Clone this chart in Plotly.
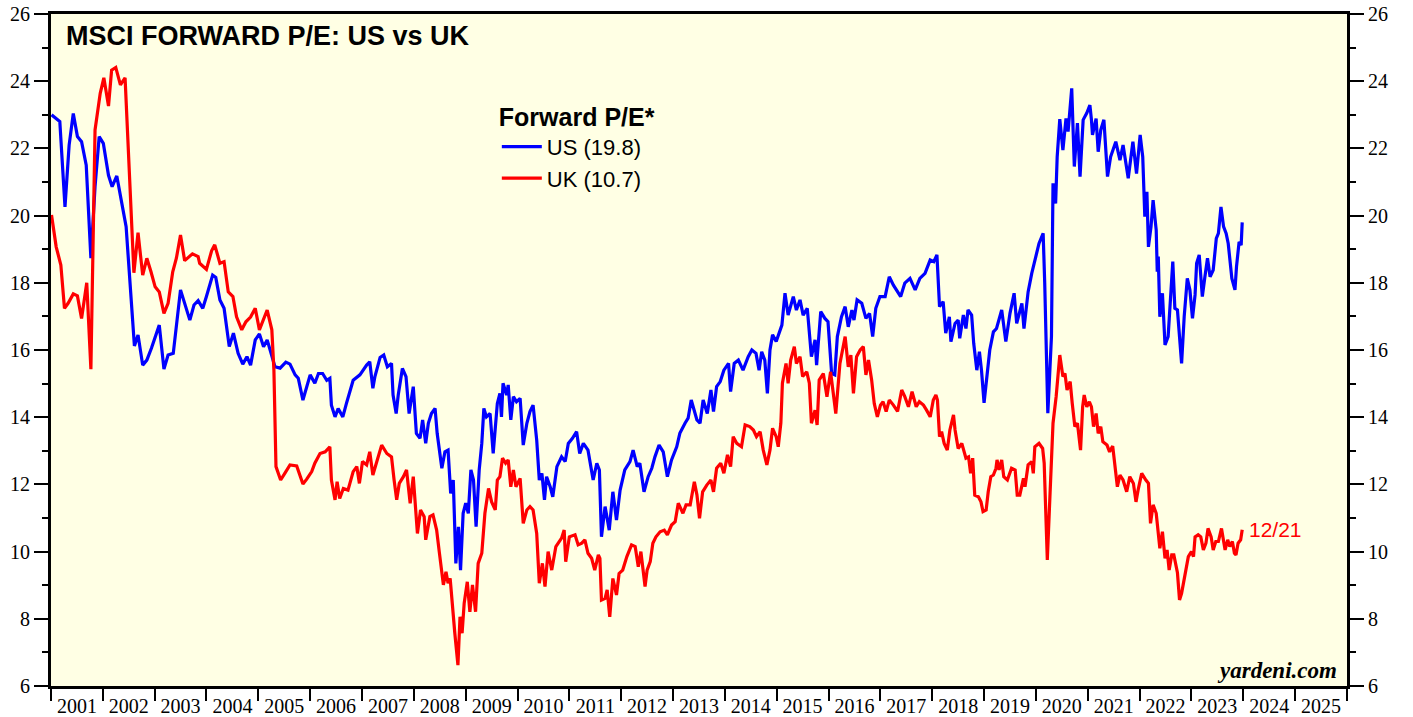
import datetime as dt
import plotly.graph_objects as go

# ---------------- data (decimal year, forward P/E) ----------------
us_t = [2001.01, 2001.17, 2001.27, 2001.35, 2001.43, 2001.51, 2001.59, 2001.68, 2001.77, 2001.85,
        2001.93, 2002.01, 2002.11, 2002.18, 2002.27, 2002.36, 2002.45, 2002.61, 2002.68, 2002.77,
        2002.85, 2002.94, 2003.09, 2003.18, 2003.26, 2003.36, 2003.50, 2003.68, 2003.76, 2003.84,
        2003.93, 2004.00, 2004.12, 2004.18, 2004.26, 2004.34, 2004.44, 2004.52, 2004.61, 2004.70,
        2004.78, 2004.85, 2004.94, 2005.02, 2005.10, 2005.17, 2005.32, 2005.42, 2005.53, 2005.61,
        2005.71, 2005.77, 2005.86, 2006.00, 2006.09, 2006.16, 2006.24, 2006.32, 2006.38, 2006.41,
        2006.48, 2006.54, 2006.63, 2006.70, 2006.83, 2006.96, 2007.02, 2007.09, 2007.15, 2007.21,
        2007.25, 2007.35, 2007.42, 2007.49, 2007.57, 2007.60, 2007.66, 2007.70, 2007.78, 2007.85,
        2007.91, 2007.99, 2008.05, 2008.12, 2008.17, 2008.23, 2008.28, 2008.34, 2008.41, 2008.45,
        2008.54, 2008.60, 2008.66, 2008.71, 2008.76, 2008.81, 2008.86, 2008.90, 2008.95, 2009.00,
        2009.05, 2009.10, 2009.15, 2009.20, 2009.26, 2009.31, 2009.35, 2009.40, 2009.47, 2009.53,
        2009.61, 2009.66, 2009.69, 2009.72, 2009.79, 2009.82, 2009.87, 2009.92, 2009.98, 2010.05,
        2010.11, 2010.18, 2010.24, 2010.30, 2010.37, 2010.42, 2010.47, 2010.52, 2010.56, 2010.63,
        2010.68, 2010.76, 2010.85, 2010.92, 2010.98, 2011.06, 2011.14, 2011.20, 2011.27, 2011.36,
        2011.46, 2011.53, 2011.58, 2011.62, 2011.69, 2011.73, 2011.77, 2011.84, 2011.91, 2011.98,
        2012.07, 2012.17, 2012.23, 2012.31, 2012.36, 2012.44, 2012.52, 2012.59, 2012.65, 2012.73,
        2012.81, 2012.89, 2012.97, 2013.07, 2013.13, 2013.23, 2013.29, 2013.35, 2013.39, 2013.46,
        2013.52, 2013.58, 2013.66, 2013.73, 2013.78, 2013.84, 2013.91, 2013.98, 2014.07, 2014.11,
        2014.18, 2014.26, 2014.35, 2014.45, 2014.52, 2014.60, 2014.66, 2014.71, 2014.77, 2014.82,
        2014.87, 2014.92, 2014.99, 2015.05, 2015.10, 2015.16, 2015.22, 2015.32, 2015.38, 2015.45,
        2015.51, 2015.59, 2015.67, 2015.74, 2015.77, 2015.85, 2015.93, 2015.99, 2016.06, 2016.12,
        2016.17, 2016.25, 2016.32, 2016.38, 2016.45, 2016.49, 2016.55, 2016.64, 2016.72, 2016.79,
        2016.85, 2016.91, 2016.99, 2017.09, 2017.17, 2017.25, 2017.31, 2017.39, 2017.47, 2017.57,
        2017.67, 2017.76, 2017.86, 2017.96, 2018.03, 2018.09, 2018.14, 2018.21, 2018.26, 2018.33,
        2018.36, 2018.44, 2018.50, 2018.53, 2018.60, 2018.65, 2018.69, 2018.76, 2018.80, 2018.86,
        2018.91, 2018.95, 2019.00, 2019.05, 2019.11, 2019.18, 2019.24, 2019.34, 2019.42, 2019.50,
        2019.58, 2019.63, 2019.73, 2019.77, 2019.85, 2019.92, 2019.98, 2020.06, 2020.14, 2020.17,
        2020.23, 2020.30, 2020.33, 2020.38, 2020.41, 2020.46, 2020.52, 2020.58, 2020.62, 2020.69,
        2020.74, 2020.80, 2020.85, 2020.91, 2020.98, 2021.04, 2021.07, 2021.09, 2021.16, 2021.20,
        2021.25, 2021.31, 2021.38, 2021.44, 2021.54, 2021.62, 2021.68, 2021.78, 2021.87, 2021.94,
        2022.01, 2022.06, 2022.10, 2022.14, 2022.17, 2022.22, 2022.26, 2022.32, 2022.34, 2022.36,
        2022.39, 2022.44, 2022.49, 2022.55, 2022.64, 2022.68, 2022.73, 2022.78, 2022.81, 2022.86,
        2022.92, 2022.97, 2023.02, 2023.07, 2023.10, 2023.15, 2023.21, 2023.26, 2023.31, 2023.36,
        2023.42, 2023.48, 2023.52, 2023.57, 2023.62, 2023.67, 2023.71, 2023.78, 2023.84, 2023.87,
        2023.92, 2023.96, 2023.98]
us_v = [23.00, 22.80, 20.26, 22.10, 23.04, 22.35, 22.20, 21.50, 18.73, 20.86,
        22.35, 22.15, 21.20, 20.86, 21.18, 20.41, 19.67, 16.12, 16.45, 15.55,
        15.70, 16.06, 16.74, 15.43, 15.85, 15.90, 17.79, 16.89, 17.34, 17.47,
        17.24, 17.59, 18.23, 18.16, 17.49, 17.24, 16.10, 16.50, 15.90, 15.58,
        15.80, 15.55, 16.30, 16.48, 16.10, 16.30, 15.50, 15.46, 15.64, 15.58,
        15.26, 15.16, 14.51, 15.26, 15.01, 15.30, 15.30, 15.10, 15.16, 14.36,
        14.01, 14.26, 14.01, 14.41, 15.10, 15.26, 15.40, 15.55, 15.65, 14.86,
        15.21, 15.78, 15.85, 15.50, 15.60, 14.66, 14.11, 14.66, 15.45, 15.21,
        14.11, 14.91, 13.52, 13.37, 13.92, 13.22, 13.82, 14.11, 14.26, 13.52,
        12.48, 12.97, 13.02, 11.73, 12.13, 9.65, 10.74, 9.45, 11.14, 11.44,
        11.14, 12.43, 12.13, 10.74, 12.43, 13.22, 14.26, 14.01, 14.11, 12.92,
        14.41, 14.71, 14.01, 15.01, 14.66, 14.96, 13.92, 14.61, 14.46, 14.56,
        13.17, 13.82, 14.17, 14.36, 13.32, 12.13, 12.33, 11.54, 12.23, 11.93,
        11.63, 12.53, 12.82, 12.68, 13.22, 13.37, 13.57, 12.92, 13.22, 13.02,
        12.13, 12.63, 12.43, 10.44, 11.34, 11.04, 10.64, 11.78, 10.94, 11.83,
        12.43, 12.68, 13.02, 12.53, 12.63, 11.78, 12.23, 12.48, 12.82, 13.17,
        12.97, 12.23, 12.73, 13.12, 13.52, 13.82, 13.97, 14.51, 14.31, 13.92,
        13.82, 14.51, 14.11, 14.81, 14.17, 14.91, 15.06, 15.40, 15.60, 14.76,
        15.60, 15.70, 15.40, 15.80, 16.00, 15.90, 15.40, 15.95, 15.70, 14.71,
        16.00, 16.45, 16.25, 16.54, 16.74, 17.69, 17.04, 17.59, 17.19, 17.49,
        17.04, 17.24, 15.80, 16.30, 15.55, 17.14, 16.94, 16.84, 15.30, 15.26,
        16.40, 16.99, 17.29, 16.69, 17.19, 16.89, 17.49, 17.39, 16.94, 17.09,
        16.40, 17.24, 17.59, 17.59, 18.18, 17.93, 17.79, 17.59, 17.99, 18.13,
        17.79, 18.13, 18.28, 18.68, 18.63, 18.83, 17.29, 17.44, 16.50, 16.99,
        16.25, 16.79, 16.89, 16.35, 17.04, 16.64, 17.19, 17.04, 16.20, 15.40,
        15.95, 15.40, 14.43, 15.06, 16.00, 16.54, 16.64, 17.19, 16.25, 17.09,
        17.69, 16.79, 17.39, 16.64, 17.73, 18.28, 18.68, 19.17, 19.47, 18.00,
        14.12, 16.40, 20.96, 20.36, 21.75, 22.87, 21.95, 22.89, 22.50, 23.79,
        21.46, 22.75, 21.16, 22.85, 23.05, 23.29, 22.85, 22.40, 22.89, 21.90,
        22.55, 22.85, 21.16, 21.75, 22.20, 21.65, 22.10, 21.11, 22.20, 21.25,
        22.40, 21.75, 19.97, 20.71, 19.07, 19.67, 20.46, 19.57, 18.33, 18.78,
        16.99, 17.69, 16.15, 16.40, 18.63, 17.24, 17.19, 16.20, 15.60, 16.99,
        18.13, 17.79, 16.94, 17.64, 18.58, 18.83, 17.59, 18.18, 18.73, 18.18,
        18.38, 19.32, 19.47, 20.26, 19.67, 19.47, 19.17, 18.13, 17.79, 18.48,
        19.22, 19.12, 19.80]

uk_t = [2001.01, 2001.10, 2001.19, 2001.26, 2001.33, 2001.43, 2001.51, 2001.59, 2001.69, 2001.77,
        2001.85, 2001.95, 2002.02, 2002.11, 2002.17, 2002.25, 2002.34, 2002.43, 2002.60, 2002.68,
        2002.77, 2002.85, 2002.93, 2003.01, 2003.09, 2003.18, 2003.26, 2003.35, 2003.42, 2003.50,
        2003.58, 2003.73, 2003.84, 2003.87, 2004.00, 2004.10, 2004.16, 2004.26, 2004.34, 2004.42,
        2004.51, 2004.58, 2004.68, 2004.76, 2004.85, 2004.94, 2005.02, 2005.17, 2005.26, 2005.30,
        2005.34, 2005.43, 2005.51, 2005.61, 2005.74, 2005.86, 2005.93, 2006.03, 2006.09, 2006.19,
        2006.29, 2006.38, 2006.41, 2006.48, 2006.52, 2006.57, 2006.64, 2006.73, 2006.83, 2006.90,
        2006.95, 2007.01, 2007.09, 2007.15, 2007.21, 2007.28, 2007.38, 2007.48, 2007.57, 2007.62,
        2007.67, 2007.72, 2007.80, 2007.86, 2007.93, 2007.99, 2008.07, 2008.13, 2008.20, 2008.23,
        2008.31, 2008.37, 2008.44, 2008.49, 2008.54, 2008.57, 2008.62, 2008.66, 2008.70, 2008.75,
        2008.79, 2008.85, 2008.89, 2008.93, 2008.97, 2009.03, 2009.08, 2009.13, 2009.19, 2009.24,
        2009.31, 2009.37, 2009.44, 2009.50, 2009.57, 2009.61, 2009.66, 2009.71, 2009.77, 2009.82,
        2009.87, 2009.92, 2009.97, 2010.05, 2010.11, 2010.18, 2010.24, 2010.30, 2010.37, 2010.42,
        2010.48, 2010.53, 2010.59, 2010.66, 2010.74, 2010.85, 2010.90, 2010.93, 2011.00, 2011.11,
        2011.17, 2011.24, 2011.30, 2011.36, 2011.43, 2011.49, 2011.56, 2011.59, 2011.62, 2011.69,
        2011.73, 2011.78, 2011.84, 2011.91, 2011.96, 2012.03, 2012.11, 2012.20, 2012.27, 2012.33,
        2012.38, 2012.46, 2012.50, 2012.56, 2012.61, 2012.67, 2012.75, 2012.83, 2012.89, 2012.97,
        2013.04, 2013.10, 2013.19, 2013.25, 2013.33, 2013.41, 2013.46, 2013.51, 2013.57, 2013.65,
        2013.73, 2013.78, 2013.84, 2013.92, 2013.98, 2014.05, 2014.11, 2014.16, 2014.23, 2014.32,
        2014.39, 2014.48, 2014.55, 2014.61, 2014.68, 2014.74, 2014.81, 2014.87, 2014.92, 2014.99,
        2015.03, 2015.08, 2015.11, 2015.18, 2015.22, 2015.27, 2015.34, 2015.38, 2015.45, 2015.50,
        2015.58, 2015.63, 2015.67, 2015.74, 2015.78, 2015.82, 2015.90, 2015.97, 2016.04, 2016.10,
        2016.14, 2016.22, 2016.32, 2016.38, 2016.43, 2016.48, 2016.54, 2016.61, 2016.67, 2016.72,
        2016.77, 2016.83, 2016.88, 2016.94, 2017.00, 2017.05, 2017.11, 2017.17, 2017.25, 2017.33,
        2017.41, 2017.47, 2017.54, 2017.61, 2017.69, 2017.75, 2017.83, 2017.89, 2017.96, 2018.02,
        2018.07, 2018.10, 2018.14, 2018.18, 2018.23, 2018.29, 2018.34, 2018.41, 2018.44, 2018.50,
        2018.57, 2018.65, 2018.70, 2018.74, 2018.78, 2018.82, 2018.89, 2018.94, 2018.98, 2019.04,
        2019.08, 2019.13, 2019.18, 2019.23, 2019.25, 2019.29, 2019.34, 2019.38, 2019.45, 2019.53,
        2019.60, 2019.64, 2019.69, 2019.76, 2019.79, 2019.85, 2019.92, 2019.95, 2019.98, 2020.06,
        2020.13, 2020.16, 2020.22, 2020.27, 2020.30, 2020.33, 2020.39, 2020.46, 2020.52, 2020.56,
        2020.60, 2020.66, 2020.70, 2020.75, 2020.80, 2020.86, 2020.90, 2020.93, 2020.98, 2021.03,
        2021.07, 2021.11, 2021.16, 2021.20, 2021.25, 2021.29, 2021.37, 2021.42, 2021.48, 2021.53,
        2021.57, 2021.62, 2021.68, 2021.75, 2021.81, 2021.88, 2021.93, 2021.97, 2022.04, 2022.12,
        2022.17, 2022.21, 2022.26, 2022.32, 2022.36, 2022.39, 2022.44, 2022.49, 2022.53, 2022.57,
        2022.62, 2022.66, 2022.73, 2022.77, 2022.81, 2022.88, 2022.94, 2023.00, 2023.04, 2023.07,
        2023.13, 2023.18, 2023.23, 2023.28, 2023.32, 2023.38, 2023.42, 2023.47, 2023.52, 2023.58,
        2023.65, 2023.70, 2023.74, 2023.79, 2023.83, 2023.86, 2023.90, 2023.95, 2023.98]
uk_v = [20.02, 19.07, 18.53, 17.24, 17.39, 17.67, 17.61, 16.94, 18.00, 15.43,
        22.55, 23.64, 24.10, 23.26, 24.33, 24.41, 23.89, 24.10, 18.30, 19.49,
        18.23, 18.73, 18.33, 17.88, 17.73, 17.09, 17.39, 18.33, 18.73, 19.42,
        18.66, 18.86, 18.78, 18.58, 18.40, 18.95, 19.13, 18.58, 18.63, 17.73,
        17.59, 16.99, 16.60, 16.84, 16.98, 17.24, 16.60, 17.19, 16.60, 15.40,
        12.53, 12.13, 12.33, 12.58, 12.55, 12.01, 12.15, 12.38, 12.63, 12.92,
        12.97, 13.12, 12.13, 11.54, 12.08, 11.58, 11.88, 11.83, 12.38, 12.53,
        12.03, 12.68, 12.58, 12.97, 12.28, 12.68, 13.17, 12.92, 12.82, 12.13,
        11.54, 12.03, 12.23, 12.43, 11.44, 12.23, 10.54, 11.24, 11.04, 10.35,
        11.04, 11.09, 10.64, 10.00, 9.45, 9.01, 9.40, 9.06, 9.20, 8.16,
        7.57, 6.62, 8.06, 7.57, 8.46, 9.10, 8.21, 9.01, 8.21, 9.65,
        9.95, 11.14, 11.88, 11.48, 11.24, 12.13, 12.23, 12.78, 12.63, 12.73,
        11.93, 12.43, 11.93, 12.18, 10.84, 11.24, 11.34, 11.24, 10.54, 9.06,
        9.65, 8.96, 10.00, 9.45, 10.15, 10.40, 10.64, 9.70, 10.44, 10.50,
        10.20, 10.25, 10.35, 9.95, 9.80, 9.45, 9.90, 9.80, 8.56, 8.61,
        8.86, 8.06, 9.20, 8.71, 9.35, 9.45, 9.85, 10.20, 10.15, 9.55,
        10.00, 8.96, 9.45, 9.70, 10.25, 10.44, 10.59, 10.64, 10.50, 10.79,
        10.89, 11.44, 11.14, 11.39, 11.39, 12.08, 11.69, 10.99, 11.78, 11.98,
        12.13, 11.78, 12.48, 12.63, 12.33, 12.88, 12.53, 13.42, 13.22, 13.12,
        13.77, 13.72, 13.62, 13.42, 13.57, 13.02, 12.58, 13.02, 13.67, 13.42,
        13.12, 13.82, 15.01, 15.60, 15.01, 15.70, 16.10, 15.60, 15.80, 15.21,
        15.35, 15.01, 13.82, 14.21, 13.77, 15.11, 15.30, 14.61, 15.35, 14.61,
        14.11, 15.60, 16.40, 15.50, 15.85, 14.71, 15.80, 16.00, 16.10, 15.26,
        15.70, 15.11, 14.41, 14.01, 14.36, 14.46, 14.17, 14.51, 14.36, 14.17,
        14.81, 14.61, 14.31, 14.76, 14.31, 14.46, 14.36, 14.21, 14.01, 14.51,
        14.66, 14.51, 13.42, 13.57, 13.22, 13.02, 13.62, 14.07, 13.62, 13.07,
        13.22, 12.78, 12.82, 12.33, 12.78, 11.68, 11.63, 11.48, 11.19, 11.24,
        11.78, 12.23, 12.28, 12.48, 12.73, 12.43, 12.73, 12.23, 12.13, 12.48,
        12.43, 11.68, 11.68, 12.18, 11.93, 12.58, 12.68, 12.33, 13.12, 13.22,
        13.07, 12.63, 9.75, 11.63, 12.92, 13.82, 14.61, 15.85, 15.21, 15.30,
        14.81, 15.06, 14.41, 13.72, 13.82, 13.02, 14.31, 14.66, 14.31, 14.46,
        14.31, 13.72, 14.11, 13.52, 13.72, 13.27, 13.17, 12.97, 13.14, 12.53,
        11.93, 12.28, 12.13, 11.78, 12.23, 12.03, 11.48, 11.83, 12.33, 12.13,
        12.03, 10.84, 11.39, 11.14, 10.54, 10.10, 10.59, 9.80, 10.05, 9.45,
        9.90, 9.90, 9.37, 8.56, 8.76, 9.35, 9.85, 10.00, 9.85, 10.44,
        10.50, 10.44, 10.05, 10.25, 10.69, 10.44, 10.05, 10.30, 10.30, 10.69,
        10.05, 10.35, 10.15, 10.30, 9.95, 9.90, 10.25, 10.35, 10.65]

us_label = "US (19.8)"
uk_label = "UK (10.7)"
last_date_label = "12/21"
title_text = "MSCI FORWARD P/E: US vs UK"
legend_title = "Forward P/E*"
source_text = "yardeni.com"


def to_date(t):
    y = int(t)
    start = dt.datetime(y, 1, 1)
    end = dt.datetime(y + 1, 1, 1)
    return start + (end - start) * (t - y)


us_x = [to_date(t) for t in us_t]
uk_x = [to_date(t) for t in uk_t]

BG = "#FFFFE4"
SERIF = "Liberation Serif, Times New Roman, serif"
SANS = "Liberation Sans, Arial, sans-serif"

fig = go.Figure()
fig.add_trace(go.Scatter(x=us_x, y=us_v, mode="lines", name=us_label,
                         line=dict(color="#0000FF", width=3.2), yaxis="y"))
fig.add_trace(go.Scatter(x=uk_x, y=uk_v, mode="lines", name=uk_label,
                         line=dict(color="#FF0000", width=3.2), yaxis="y2"))

yaxis_common = dict(
    range=[6, 26], dtick=2, tick0=6, ticks="outside", ticklen=14, tickwidth=2,
    tickcolor="black", showgrid=False, zeroline=False, automargin=False,
    showline=True, linecolor="black", linewidth=3,
    tickfont=dict(family=SERIF, size=20, color="black"),
    minor=dict(dtick=1, tick0=6, ticks="outside", ticklen=6, tickwidth=2,
               tickcolor="black", showgrid=False),
)

fig.update_layout(
    width=1413, height=717,
    margin=dict(l=51, r=66, t=14, b=31),
    paper_bgcolor="white", plot_bgcolor=BG,
    showlegend=True,
    xaxis=dict(
        type="date", range=[dt.datetime(2001, 1, 1), dt.datetime(2026, 1, 1)],
        tick0="2001-01-01", dtick="M12", tickformat="%Y", ticklabelmode="period",
        ticks="outside", ticklen=12, tickwidth=2, tickcolor="black",
        ticklabelstandoff=-12,
        showgrid=False, zeroline=False, automargin=False,
        showline=True, linecolor="black", linewidth=3, mirror=True,
        tickfont=dict(family=SERIF, size=20, color="black"),
    ),
    yaxis=dict(side="left", **yaxis_common),
    yaxis2=dict(side="right", overlaying="y", **yaxis_common),
    legend=dict(
        x=0.344, y=0.882, xanchor="left", yanchor="top",
        bgcolor="rgba(0,0,0,0)", borderwidth=0,
        title=dict(text="<b>" + legend_title + "</b>",
                   font=dict(family=SANS, size=25, color="black")),
        font=dict(family=SANS, size=22, color="black"),
        tracegroupgap=0, itemwidth=40,
    ),
    annotations=[
        dict(text="<b>" + title_text + "</b>", xref="paper", yref="paper",
             x=0.010, y=0.993, xanchor="left", yanchor="top", showarrow=False,
             font=dict(family=SANS, size=27, color="black")),
        dict(text="<b><i>" + source_text + "</i></b>", xref="paper", yref="paper",
             x=0.994, y=0.002, xanchor="right", yanchor="bottom", showarrow=False,
             font=dict(family=SERIF, size=23, color="black")),
        dict(text=last_date_label, x=uk_x[-1], y=uk_v[-1], xref="x", yref="y",
             xanchor="left", yanchor="middle", xshift=5, showarrow=False,
             font=dict(family=SANS, size=21, color="#FF0000")),
    ],
)

# remove the default page margin so the figure starts at the window's top-left corner
fig.write_html("out.html", config={"displayModeBar": False},
               post_script="document.body.style.margin='0';")
